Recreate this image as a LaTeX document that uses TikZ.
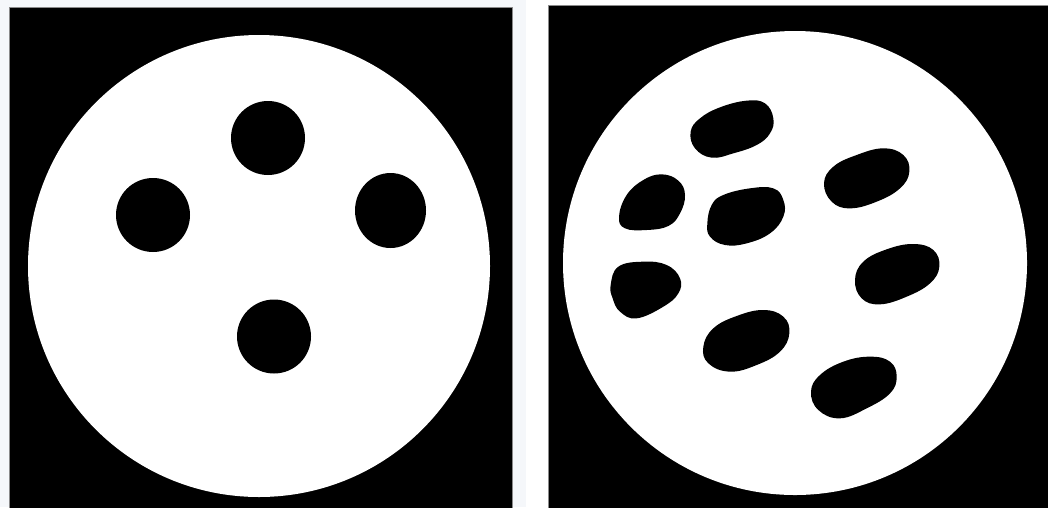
\documentclass[tikz,border=0pt]{standalone}
\definecolor{panelbg}{HTML}{F5F7FA}
\definecolor{edgegray}{HTML}{8A8A8A}
\begin{document}
\begin{tikzpicture}[x=1pt,y=-1pt,
  panel/.style={fill=black,draw=edgegray,line width=1pt},
  disk/.style={fill=white},
  blob/.style={fill=black}]
\useasboundingbox (0,0) rectangle (1048,507);
\fill[white] (0,0) rectangle (1048,507);
\fill[panelbg] (0,0) rectangle (526,507);
% left panel
\draw[panel] (9.5,7.5) rectangle (512,508);
\fill[disk] (259,266) circle (231);
\fill[blob] (268,138) circle (37);
\fill[blob] (153,215) circle (37);
\fill[blob] (390.5,210.5) ellipse (35.5 and 37.5);
\fill[blob] (274,336.5) circle (37);
% right panel
\draw[panel] (548.5,5.5) rectangle (1049,508);
\fill[disk] (795,263) circle (232);
\begin{scope}[shift={(600,90)},scale=1/3]
\fill[blob] plot[smooth cycle,tension=0.7] coordinates {(272,125) (300,85) (360,52) (440,32) (495,40) (520,85) (510,130) (470,165) (400,190) (335,203) (285,175)};
\fill[blob] plot[smooth cycle,tension=0.7] coordinates {(57,380) (80,315) (130,270) (185,253) (235,272) (255,315) (240,370) (205,408) (140,420) (75,415)};
\fill[blob] plot[smooth cycle,tension=0.7] coordinates {(322,400) (335,345) (370,315) (450,295) (520,295) (550,330) (550,380) (510,430) (440,460) (375,465) (330,440)};
\fill[blob] plot[smooth cycle,tension=0.7] coordinates {(672,280) (700,230) (770,195) (850,175) (910,195) (928,245) (900,295) (830,335) (750,355) (695,335)};
\fill[blob] plot[smooth cycle,tension=0.7] coordinates {(32,585) (55,530) (130,515) (200,525) (240,565) (235,610) (190,650) (110,685) (60,665) (38,625)};
\fill[blob] plot[smooth cycle,tension=0.7] coordinates {(765,570) (790,515) (860,478) (940,462) (1000,480) (1018,530) (990,580) (920,620) (840,643) (785,625)};
\fill[blob] plot[smooth cycle,tension=0.7] coordinates {(310,770) (340,715) (410,678) (490,660) (550,680) (568,730) (540,785) (470,825) (390,845) (325,820)};
\fill[blob] plot[smooth cycle,tension=0.7] coordinates {(633,905) (660,855) (730,815) (810,800) (870,815) (890,860) (870,910) (800,955) (720,985) (655,960)};
\end{scope}
\end{tikzpicture}
\end{document}
